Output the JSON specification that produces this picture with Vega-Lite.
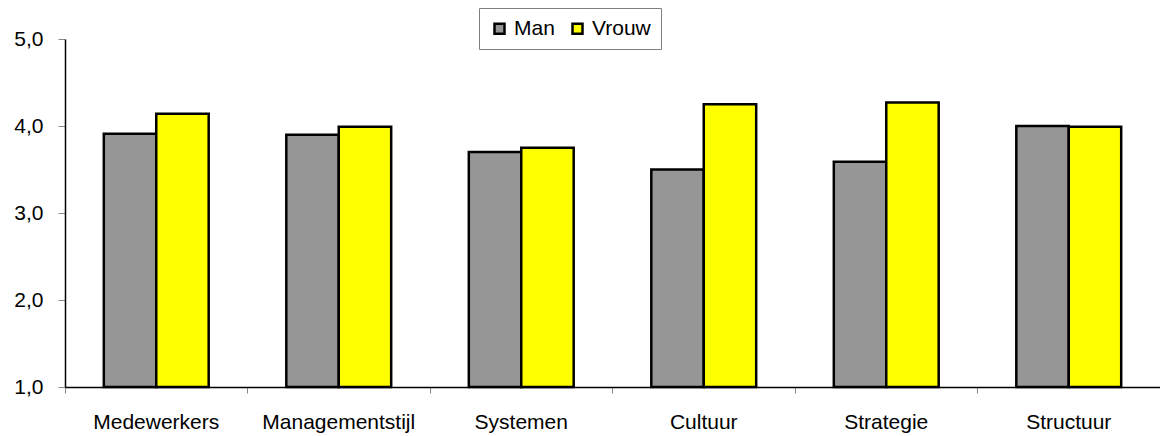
{
  "$schema": "https://vega.github.io/schema/vega-lite/v6.json",
  "width": 1095,
  "height": 348,
  "autosize": {"type": "none"},
  "padding": {"left": 65, "top": 39, "right": 0, "bottom": 49},
  "background": "white",
  "config": {
    "view": {"stroke": null},
    "font": "Liberation Sans",
    "axis": {"labelFontSize": 21, "labelColor": "black", "labelOverlap": false},
    "legend": {"labelFontSize": 21, "labelColor": "black"}
  },
  "data": {
    "values": [
      {"categorie": "Medewerkers", "geslacht": "Man", "score": 3.91},
      {"categorie": "Medewerkers", "geslacht": "Vrouw", "score": 4.14},
      {"categorie": "Managementstijl", "geslacht": "Man", "score": 3.90},
      {"categorie": "Managementstijl", "geslacht": "Vrouw", "score": 3.99},
      {"categorie": "Systemen", "geslacht": "Man", "score": 3.70},
      {"categorie": "Systemen", "geslacht": "Vrouw", "score": 3.75},
      {"categorie": "Cultuur", "geslacht": "Man", "score": 3.50},
      {"categorie": "Cultuur", "geslacht": "Vrouw", "score": 4.25},
      {"categorie": "Strategie", "geslacht": "Man", "score": 3.59},
      {"categorie": "Strategie", "geslacht": "Vrouw", "score": 4.27},
      {"categorie": "Structuur", "geslacht": "Man", "score": 4.00},
      {"categorie": "Structuur", "geslacht": "Vrouw", "score": 3.99}
    ]
  },
  "mark": {"type": "bar", "stroke": "black", "strokeWidth": 2.5},
  "encoding": {
    "x": {
      "field": "categorie",
      "type": "nominal",
      "sort": null,
      "scale": {"paddingInner": 0, "paddingOuter": 0},
      "axis": {
        "title": null,
        "labelAngle": 0,
        "labelFontSize": 21,
        "labelPadding": 18,
        "labelOverlap": false,
        "bandPosition": 0,
        "tickSize": 6,
        "tickColor": "#888888",
        "domainColor": "black",
        "domainWidth": 1.5,
        "grid": false
      }
    },
    "xOffset": {
      "field": "geslacht",
      "type": "nominal",
      "scale": {"paddingInner": 0, "paddingOuter": 0.74}
    },
    "y": {
      "field": "score",
      "type": "quantitative",
      "scale": {"domain": [1, 5], "nice": false, "zero": false},
      "axis": {
        "title": null,
        "values": [1, 2, 3, 4, 5],
        "labelExpr": "replace(format(datum.value, '.1f'), '.', ',')",
        "labelFontSize": 21,
        "labelPadding": 15,
        "tickSize": 7,
        "tickColor": "#888888",
        "domainColor": "black",
        "domainWidth": 1.5,
        "grid": false
      }
    },
    "y2": {"datum": 1},
    "fill": {
      "field": "geslacht",
      "type": "nominal",
      "scale": {"domain": ["Man", "Vrouw"], "range": ["#969696", "#ffff00"]},
      "legend": {
        "title": null,
        "orient": "none",
        "legendX": 414,
        "legendY": -31,
        "direction": "horizontal",
        "symbolType": "square",
        "symbolSize": 100,
        "symbolStrokeColor": "black",
        "symbolStrokeWidth": 2.5,
        "labelFontSize": 21,
        "labelOffset": 4,
        "columnPadding": 12,
        "strokeColor": "#808080",
        "fillColor": "white",
        "padding": 10
      }
    }
  }
}
